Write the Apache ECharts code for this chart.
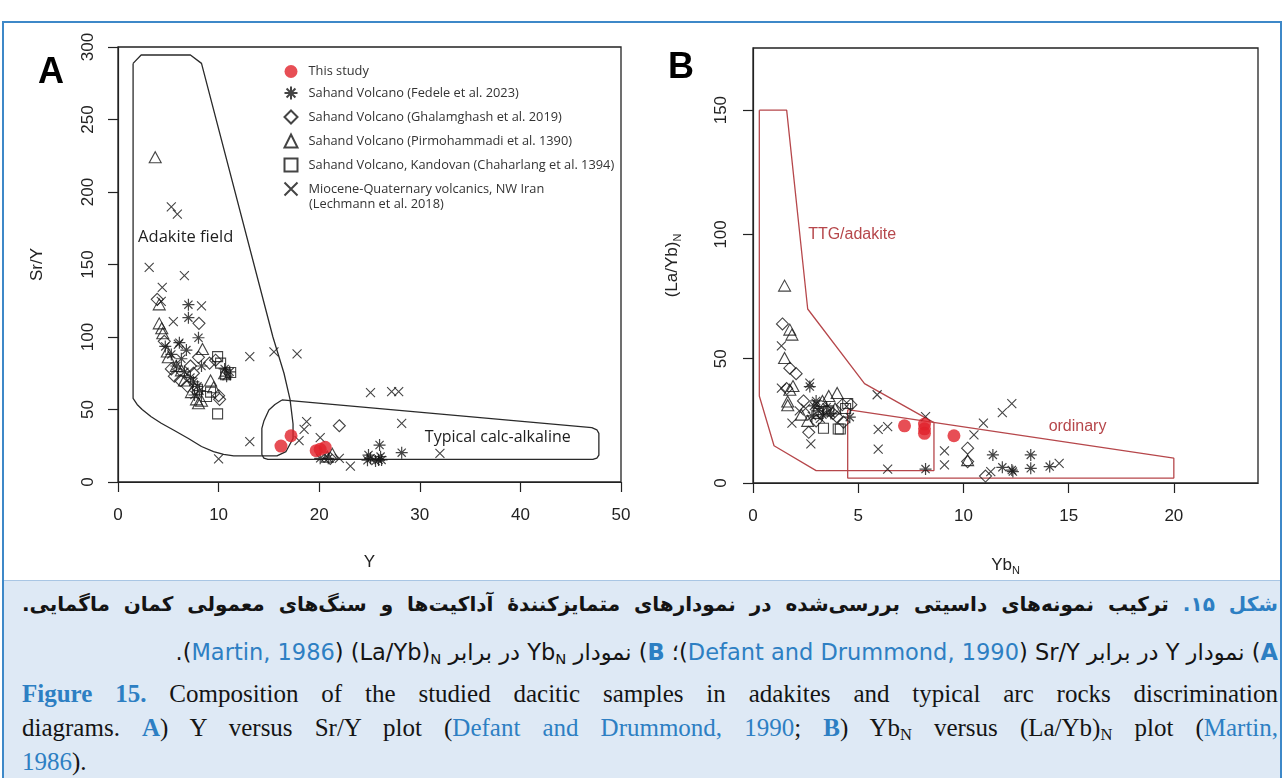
<!DOCTYPE html>
<html>
<head>
<meta charset="utf-8">
<script src="https://cdn.jsdelivr.net/npm/echarts@6/dist/echarts.min.js"></script>
<style>
  html, body { margin: 0; padding: 0; background: #fff; width: 1284px; height: 778px; overflow: hidden; }
  #chart { position: absolute; left: 0; top: 0; width: 1284px; height: 778px; }
  #frame { position: absolute; left: 2px; top: 21px; width: 1276px; height: 800px; border: 2px solid #3d88c8; pointer-events: none; }
  #capbg { position: absolute; left: 4px; top: 580px; width: 1276px; height: 198px; background: #dee9f5; border-top: 1px solid #a9c6e4; }
  .ln { position: absolute; left: 22px; width: 1256px; height: 32px; line-height: 32px; white-space: nowrap; color: #141414; }
  .fa { direction: rtl; text-align: right; font-family: "DejaVu Sans", sans-serif; font-size: 22.5px; }
  .fa1 { font-size: 20px; font-weight: bold; }
  .en { font-family: "Liberation Serif", "DejaVu Serif", serif; font-size: 25px; text-align: left; }
  .j { text-align: justify; text-align-last: justify; }
  .hb { color: #2d7fc3; font-weight: bold; }
  .hl { color: #2d7fc3; }
  bdi { unicode-bidi: isolate; }
  sub { font-size: 0.66em; vertical-align: -0.25em; line-height: 0; }
</style>
</head>
<body>
<div id="chart"></div>
<div id="capbg"></div>
<div class="ln fa fa1 j" style="top:588px;"><span class="hb">شکل ۱۵.</span> ترکیب نمونه‌های داسیتی بررسی‌شده در نمودارهای متمایزکنندۀ آداکیت‌ها و سنگ‌های معمولی کمان ماگمایی.</div>
<div class="ln fa" style="top:636px;"><span class="hb"><bdi>A</bdi></span>) نمودار <bdi>Y</bdi> در برابر <bdi>Sr/Y</bdi> (<span class="hl"><bdi>Defant and Drummond, 1990</bdi></span>)؛ <span class="hb"><bdi>B</bdi></span>) نمودار <bdi>Yb<sub>N</sub></bdi> در برابر <bdi>(La/Yb)<sub>N</sub></bdi> (<span class="hl"><bdi>Martin, 1986</bdi></span>).</div>
<div class="ln en j" style="top:678px;"><span class="hb">Figure 15.</span> Composition of the studied dacitic samples in adakites and typical arc rocks discrimination</div>
<div class="ln en j" style="top:712px;">diagrams. <span class="hb">A</span>) Y versus Sr/Y plot (<span class="hl">Defant and Drummond, 1990</span>; <span class="hb">B</span>) Yb<sub>N</sub> versus (La/Yb)<sub>N</sub> plot (<span class="hl">Martin,</span></div>
<div class="ln en" style="top:746px;"><span class="hl">1986</span>).</div>
<div id="frame"></div>
<script>
// ---------- series names ----------
const SERIES_NAMES = [
  'This study',
  'Sahand Volcano (Fedele et al. 2023)',
  'Sahand Volcano (Ghalamghash et al. 2019)',
  'Sahand Volcano (Pirmohammadi et al. 1390)',
  'Sahand Volcano, Kandovan (Chaharlang et al. 1394)',
  'Miocene-Quaternary volcanics, NW Iran (Lechmann et al. 2018)'
];

// ---------- panel A: Y vs Sr/Y ----------
const aXTicks = [0, 10, 20, 30, 40, 50];
const aYTicks = [0, 50, 100, 150, 200, 250, 300];
const aThisStudy = [[16.2, 24.8], [17.2, 31.9], [19.7, 21.6], [20.1, 22.6], [20.6, 23.9]];
const aFedele = [[7.0, 122.3], [7.0, 113.3], [8.0, 99.5], [6.1, 96.1], [4.7, 93.5], [5.3, 88], [6.3, 85], [5.8, 80],
  [6.6, 76], [7.2, 72], [7.5, 69], [7.9, 66], [8.1, 63], [7.6, 60], [10.6, 78], [11.1, 76], [10.8, 73], [6.8, 91], [8.3, 80],
  [20.1, 16.3], [20.9, 16.3], [24.9, 18.6], [25.1, 16.3], [25.6, 14.5], [25.9, 15.2], [26.2, 15.2], [26.0, 25.5],
  [28.2, 20.2], [26.1, 17.5], [24.8, 15.0]];
const aGhalamghash = [[3.9, 126], [8.05, 109.4], [9.7, 84], [10.1, 57], [10.0, 59.5], [5.6, 73], [6.2, 70], [8.0, 86],
  [7.2, 80], [9.1, 82], [4.6, 97], [5.3, 78], [6.9, 66], [7.5, 75], [22.0, 38.8], [21.1, 16.3]];
const aPirmohammadi = [[3.7, 224], [4.1, 122.5], [4.1, 109.4], [4.35, 106], [4.45, 102.6], [8.4, 91.7], [9.5, 65.3],
  [8.0, 54.3], [10.6, 75], [5.0, 86], [5.8, 80], [6.3, 77], [7.3, 62], [7.8, 57], [8.3, 56], [6.6, 70], [4.9, 90],
  [9.2, 70], [21.3, 19.5], [20.8, 17.5]];
const aKandovan = [[9.9, 86.5], [10.2, 82], [9.9, 47], [10.7, 74], [11.2, 75.5], [8.8, 59], [9.2, 62], [7.9, 64]];
const aLechmann = [[5.3, 189.7], [5.9, 184.8], [3.1, 148], [6.6, 142.3], [4.4, 134.3], [4.3, 124.5], [8.3, 121.4],
  [5.5, 110.6], [13.1, 86.4], [15.5, 89.7], [17.8, 88.3], [13.1, 27.8], [10.0, 15.9], [25.1, 61.6], [27.2, 62.3],
  [27.9, 62.3], [28.2, 40.5], [32.0, 19.8], [18.75, 41.6], [18.5, 36.3], [18.0, 28.5], [20.1, 30.6], [22.0, 16.3],
  [23.1, 11.0], [6.0, 95]];
// discrimination fields (Defant and Drummond, 1990)
const adakiteField = [[1.5, 288.7], [2.3, 294.5], [7.2, 294.5], [8.3, 288.7], [15.4, 100], [16.5, 75], [17.1, 57],
  [17.4, 40], [17.4, 30], [16.7, 21], [15.8, 18], [11.5, 18], [10.5, 19], [9.5, 21], [8.3, 24.5], [7.0, 30],
  [5.6, 35.5], [4.3, 40.5], [3.3, 45], [2.4, 50], [1.9, 53.5], [1.5, 57.7], [1.5, 288.7]];
const calcAlkalineField = [[16.3, 56.6], [47.1, 37.5], [47.6, 36], [47.8, 33.5], [47.8, 18.6], [47.6, 16.5],
  [47.2, 15.6], [14.9, 15.6], [14.5, 16.5], [14.3, 19], [14.3, 37], [14.5, 42], [15.0, 49.7], [15.6, 53.5], [16.3, 56.6]];

// ---------- panel B: YbN vs (La/Yb)N ----------
const bXTicks = [0, 5, 10, 15, 20];
const bYTicks = [0, 50, 100, 150];
const bThisStudy = [[7.2, 23.0], [8.15, 23.7], [8.15, 21.8], [8.15, 20.0], [9.55, 19.0]];
const bFedele = [[2.7, 38.8], [2.9, 31], [3.1, 29], [3.3, 27.5], [3.5, 30.5], [2.8, 27], [3.7, 28], [4.6, 26.5],
  [8.2, 5.6], [11.4, 11.3], [11.85, 6.3], [12.3, 5.2], [12.35, 4.6], [13.2, 11.3], [13.2, 5.9], [14.1, 6.6], [3.0, 33]];
const bGhalamghash = [[1.4, 64], [1.75, 46.2], [2.05, 44], [2.65, 20.4], [3.4, 30], [3.8, 28], [4.25, 31.5], [4.0, 26.5],
  [4.3, 24.5], [2.4, 33], [3.0, 25], [4.65, 31.5], [10.2, 14], [10.2, 8.6], [11.05, 2.8], [1.6, 38]];
const bPirmohammadi = [[1.5, 79.4], [1.75, 61.7], [1.85, 59.7], [1.5, 50.3], [1.75, 37.5], [1.65, 32.8], [1.65, 31.3],
  [4.0, 36.2], [2.3, 27.5], [3.3, 33], [3.6, 35], [2.6, 25], [1.9, 39], [10.2, 9.2], [3.9, 30]];
const bKandovan = [[3.35, 22], [4.05, 21.7], [4.15, 21.7], [3.1, 28], [4.4, 30], [3.6, 29], [4.5, 32]];
const bLechmann = [[1.35, 55.2], [1.35, 38.2], [2.7, 40.2], [1.85, 24.1], [2.75, 15.7], [5.9, 35.5], [5.95, 21.6],
  [6.4, 22.7], [5.95, 13.6], [6.4, 5.6], [8.2, 26.7], [9.1, 12.9], [9.1, 7.3], [10.5, 19.4], [10.95, 24.1],
  [11.85, 28.3], [12.3, 31.9], [11.3, 4.6], [14.55, 7.9], [2.5, 30], [3.0, 32], [2.2, 29], [3.2, 26]];
// discrimination fields (Martin, 1986)
const ttgField = [[0.3, 150], [1.6, 150], [2.6, 70], [5.3, 40], [8.6, 24.3], [8.6, 5], [3.0, 5], [1.0, 15], [0.3, 35], [0.3, 150]];
const ordinaryField = [[4.5, 29.5], [20, 10], [20, 2], [4.5, 2], [4.5, 29.5]];

// ---------- marker styles ----------
const INK = '#151515';
const CROSS = 'path://M0,0L10,10M10,0L0,10';
const STAR = 'path://M1.6,1.6L8.4,8.4M8.4,1.6L1.6,8.4M5,0L5,10M0,5L10,5';
const markerStyles = [
  { symbol: 'circle', symbolSize: 13, itemStyle: { color: '#e1222b', borderWidth: 0 } },
  { symbol: STAR, symbolSize: 12, itemStyle: { color: 'none', borderColor: INK, borderWidth: 1.2 } },
  { symbol: 'diamond', symbolSize: 12, itemStyle: { color: 'none', borderColor: INK, borderWidth: 1.1 } },
  { symbol: 'triangle', symbolSize: [12, 11], itemStyle: { color: 'none', borderColor: INK, borderWidth: 1.1 } },
  { symbol: 'rect', symbolSize: 10, itemStyle: { color: 'none', borderColor: INK, borderWidth: 1.1 } },
  { symbol: CROSS, symbolSize: 9, itemStyle: { color: 'none', borderColor: INK, borderWidth: 1.1 } }
];
// draw order: open symbols first, red samples on top
const drawOrder = [5, 4, 3, 2, 1, 0];
const panelData = [
  [aThisStudy, aFedele, aGhalamghash, aPirmohammadi, aKandovan, aLechmann],
  [bThisStudy, bFedele, bGhalamghash, bPirmohammadi, bKandovan, bLechmann]
];

const AXIS_FONT = '"Liberation Sans", Arial, sans-serif';
const LABEL_FONT = '"Open Sans", "Noto Sans", sans-serif';

function fieldSeries(grid, data, color) {
  return {
    type: 'line', xAxisIndex: grid, yAxisIndex: grid, data: data, symbol: 'none', silent: true,
    lineStyle: { color: color, width: 1.3 }, z: 1, animation: false
  };
}

const series = [
  fieldSeries(0, adakiteField, '#2a2a2a'),
  fieldSeries(0, calcAlkalineField, '#2a2a2a'),
  fieldSeries(1, ttgField, '#b6474b'),
  fieldSeries(1, ordinaryField, '#b6474b')
];
[0, 1].forEach(function (g) {
  drawOrder.forEach(function (k) {
    const st = markerStyles[k];
    series.push({
      type: 'scatter', name: SERIES_NAMES[k], xAxisIndex: g, yAxisIndex: g,
      data: panelData[g][k], symbol: st.symbol, symbolSize: st.symbolSize,
      itemStyle: st.itemStyle, emphasis: { disabled: true }, z: k === 0 ? 5 : 3, animation: false
    });
  });
});

const nameStyle = {
  fontFamily: AXIS_FONT, fontSize: 17, color: '#222',
  rich: { a: { fontFamily: AXIS_FONT, fontSize: 17, color: '#222' },
          s: { fontFamily: AXIS_FONT, fontSize: 11, color: '#222', padding: [10, 0, 0, 0] } }
};
function xAxis(grid, min, max, ticks, name, gap) {
  return {
    type: 'value', gridIndex: grid, min: min, max: max, name: name, nameLocation: 'middle', nameGap: gap,
    nameTextStyle: nameStyle,
    axisLine: { show: true, onZero: false, lineStyle: { color: '#222', width: 1.2 } },
    axisTick: { show: true, inside: false, length: 10, customValues: ticks, lineStyle: { color: '#222', width: 1.2 } },
    axisLabel: { customValues: ticks, margin: 25, fontFamily: AXIS_FONT, fontSize: 17, color: '#222' },
    splitLine: { show: false }
  };
}
function yAxis(grid, min, max, ticks, name, gap, margin) {
  return {
    type: 'value', gridIndex: grid, min: min, max: max, name: name, nameLocation: 'middle', nameGap: gap,
    nameTextStyle: nameStyle,
    axisLine: { show: true, onZero: false, lineStyle: { color: '#222', width: 1.2 } },
    axisTick: { show: true, inside: false, length: 10, customValues: ticks, lineStyle: { color: '#222', width: 1.2 } },
    axisLabel: { customValues: ticks, rotate: 90, margin: margin, fontFamily: AXIS_FONT, fontSize: 17, color: '#222' },
    splitLine: { show: false }
  };
}

// the long last legend entry wraps before its citation
const LECH = SERIES_NAMES[5];
const LECH_BREAK = LECH.indexOf(' (Lechmann');
const LEGEND_TEXT = { fontFamily: LABEL_FONT, fontSize: 12.8, color: '#333' };
const option = {
  backgroundColor: '#ffffff',
  animation: false,
  grid: [
    { left: 118, top: 47, width: 503, height: 435, show: true, borderColor: '#222', borderWidth: 1.3, backgroundColor: 'transparent' },
    { left: 753, top: 48, width: 505, height: 435, show: true, borderColor: '#222', borderWidth: 1.3, backgroundColor: 'transparent' }
  ],
  xAxis: [
    xAxis(0, 0, 50, aXTicks, 'Y', 72),
    xAxis(1, 0, 24, bXTicks, '{a|Yb}{s|N}', 72)
  ],
  yAxis: [
    yAxis(0, 0, 300, aYTicks, 'Sr/Y', 72, 21),
    yAxis(1, 0, 175, bYTicks, '{a|(La/Yb)}{s|N}', 70, 23)
  ],
  legend: {
    orient: 'vertical', left: 277, top: 60, itemWidth: 13, itemHeight: 13, itemGap: 6,
    selectedMode: false,
    data: SERIES_NAMES,
    formatter: function (n) { return n === LECH ? n.slice(0, LECH_BREAK) : n; },
    textStyle: Object.assign({ padding: [0, 0, 0, 6] }, LEGEND_TEXT)
  },
  series: series
};

const chart = echarts.init(document.getElementById('chart'), null, { renderer: 'canvas' });
chart.setOption(option);

// text annotations placed in data units of each panel
const fieldLabels = [
  { grid: 0, at: [2.0, 169], text: 'Adakite field', color: '#1e1e1e', font: LABEL_FONT, size: 16.5 },
  { grid: 0, at: [30.5, 31], text: 'Typical calc-alkaline', color: '#1e1e1e', font: LABEL_FONT, size: 16 },
  { grid: 1, at: [2.62, 100], text: 'TTG/adakite', color: '#b6474b', font: AXIS_FONT, size: 16 },
  { grid: 1, at: [14.05, 22.6], text: 'ordinary', color: '#b6474b', font: AXIS_FONT, size: 16 }
];
const graphics = fieldLabels.map(function (l) {
  const p = chart.convertToPixel({ gridIndex: l.grid }, l.at);
  return {
    type: 'text', x: p[0], y: p[1], z: 10,
    style: { text: l.text, fill: l.color, font: l.size + 'px ' + l.font, textVerticalAlign: 'middle', textAlign: 'left' }
  };
});
graphics.push(
  // second line of the last legend entry
  { type: 'text', x: 309, y: 204, z: 10,
    style: { text: LECH.slice(LECH_BREAK + 1), fill: LEGEND_TEXT.color,
             font: LEGEND_TEXT.fontSize + 'px ' + LEGEND_TEXT.fontFamily, textVerticalAlign: 'middle' } },
  // panel letters
  { type: 'text', x: 38, y: 73, style: { text: 'A', fill: '#000', font: 'bold 36px ' + AXIS_FONT, textVerticalAlign: 'middle' } },
  { type: 'text', x: 668, y: 68, style: { text: 'B', fill: '#000', font: 'bold 36px ' + AXIS_FONT, textVerticalAlign: 'middle' } }
);
chart.setOption({ graphic: graphics });
</script>
</body>
</html>
